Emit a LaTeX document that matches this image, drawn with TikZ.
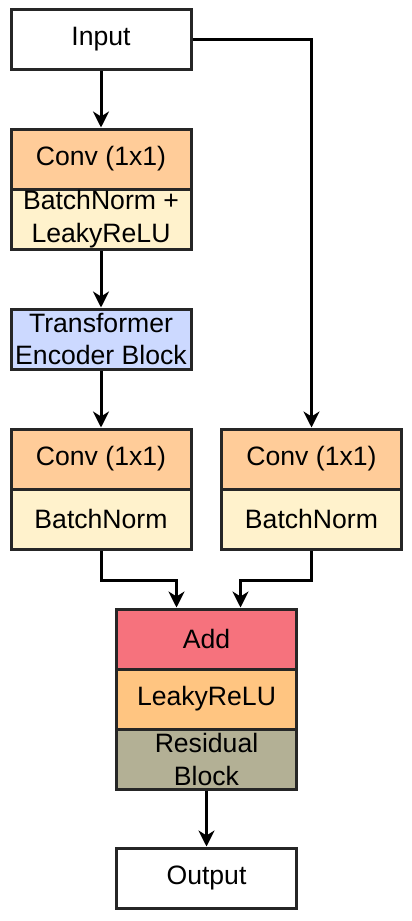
\documentclass[tikz,border=0pt]{standalone}
\usepackage{fontspec}
\setmainfont{Liberation Sans}
\usetikzlibrary{arrows.meta}

\definecolor{convorange}{HTML}{FFCC99}
\definecolor{normyellow}{HTML}{FFF2CC}
\definecolor{transblue}{HTML}{CCD9FF}
\definecolor{addred}{HTML}{F6727D}
\definecolor{reluorange}{HTML}{FFC581}
\definecolor{resgray}{HTML}{B3B095}

\tikzset{
  blk/.style={draw=black!85, line width=1.5pt, minimum width=90pt, minimum height=30pt,
    inner sep=0pt, align=center, font=\fontsize{13.3}{16.5}\selectfont},
  arr/.style={draw=black, line width=1.5pt, -{Stealth[length=8pt,width=8pt,inset=2.5pt]}}
}

\begin{document}
\begin{tikzpicture}[x=0.5pt,y=-0.5pt]
        \useasboundingbox (0,0) rectangle (412,921);
        % left branch
        \node[blk, fill=white] (inp) at (101,39) {Input};
        \node[blk, fill=convorange] (conva) at (101,159) {Conv (1x1)};
        \node[blk, fill=normyellow] (bna) at (101,219) {BatchNorm +\\LeakyReLU};
        \node[blk, fill=transblue] (trans) at (101,339) {Transformer\\Encoder Block};
        \node[blk, fill=convorange] (convb) at (101,459) {Conv (1x1)};
        \node[blk, fill=normyellow] (bnb) at (101,519) {BatchNorm};
        % right branch
        \node[blk, fill=convorange] (convc) at (311.5,459) {Conv (1x1)};
        \node[blk, fill=normyellow] (bnc) at (311.5,519) {BatchNorm};
        % merge
        \node[blk, fill=addred] (add) at (206.5,639) {Add};
        \node[blk, fill=reluorange] (relu) at (206.5,699) {LeakyReLU};
        \node[blk, fill=resgray] (res) at (206.5,759) {Residual\\Block};
        \node[blk, fill=white] (out) at (206.5,878) {Output};
        \draw[arr] (inp) -- (conva);
        \draw[arr] (bna) -- (trans);
        \draw[arr] (trans) -- (convb);
        \draw[arr] (inp.east) -| (convc.north);
        \draw[arr] (bnb.south) -- ++(0,30) -| ([xshift=-15pt]add.north);
        \draw[arr] (bnc.south) -- ++(0,30) -| ([xshift=17pt]add.north);
        \draw[arr] (res) -- (out);
      \end{tikzpicture}
\end{document}
